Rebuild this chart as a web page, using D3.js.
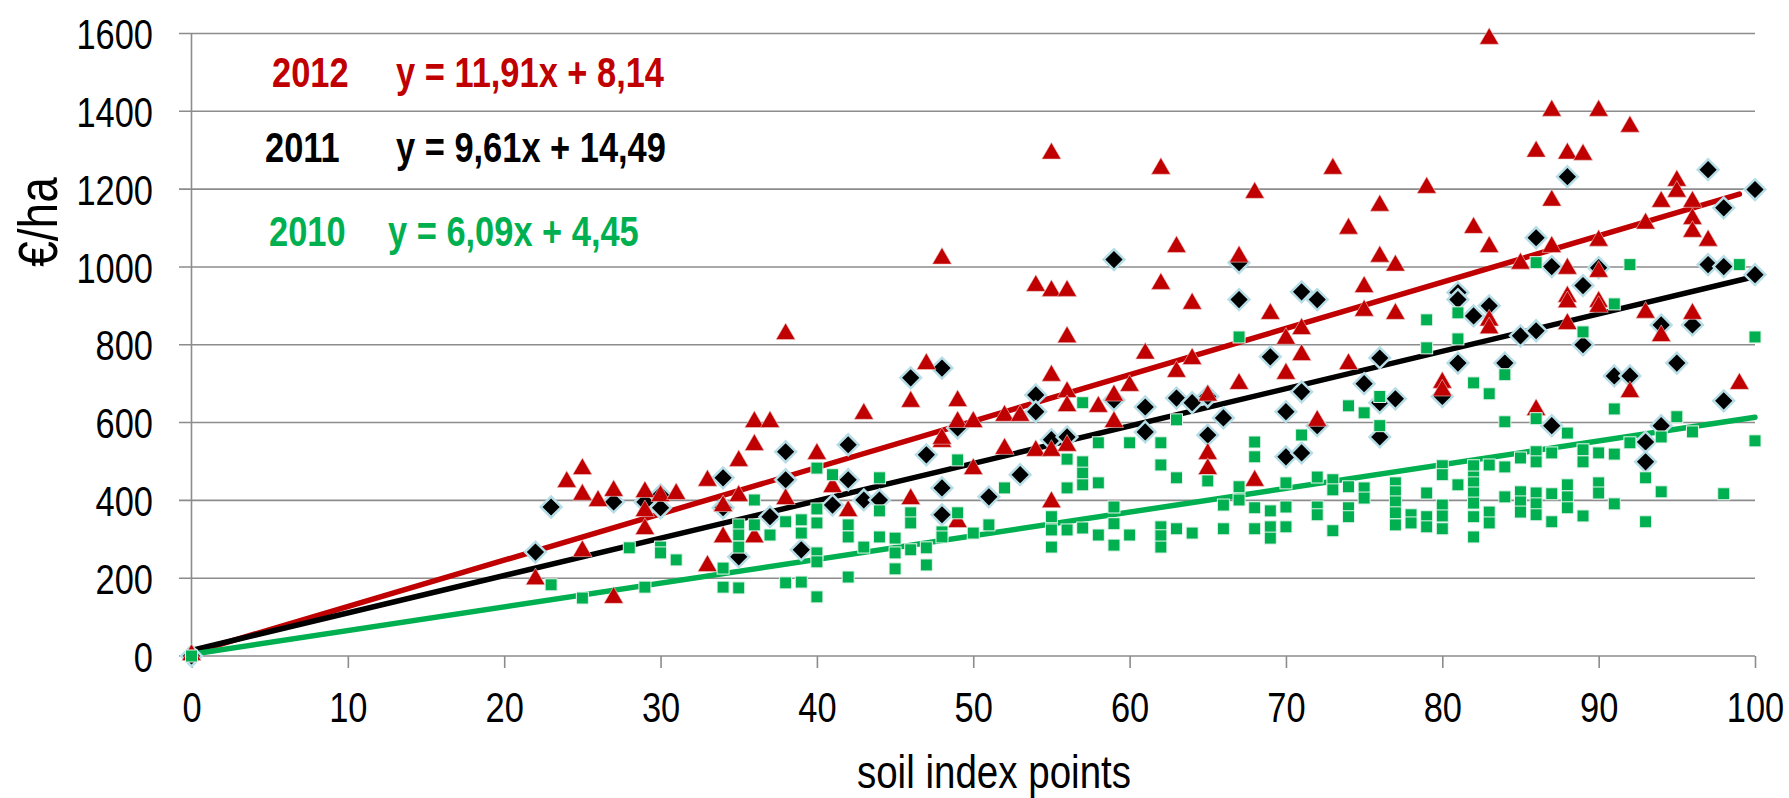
<!DOCTYPE html>
<html>
<head>
<meta charset="utf-8">
<script src="https://d3js.org/d3.v7.min.js"></script>
<style>
  body { margin: 0; background: #fff; }
  text { font-family: 'Liberation Sans', Arial, sans-serif; }
</style>
</head>
<body>
<svg id="my-svg" width="1789" height="798"></svg>
<script>
// Tick values
var xTicks = [0, 10, 20, 30, 40, 50, 60, 70, 80, 90, 100];
var yTicks = [0, 200, 400, 600, 800, 1000, 1200, 1400, 1600];

// 2012 (red triangles), [soil index, euro/ha]
var pts2012 = [
  [0,0],[22,195],[24,445],[25,478],[25,412],[25,267],[26,396],[27,422],[27,147],
  [29,419],[29,370],[29,324],[30,409],[31,414],[33,448],[33,229],[34,383],[34,303],
  [35,499],[35,409],[36,599],[36,540],[36,303],[37,599],[38,825],[38,401],[40,517],
  [41,432],[42,370],[43,620],[46,401],[46,651],[47,748],[48,548],[48,1019],[48,556],
  [49,653],[49,599],[49,342],[50,599],[50,478],[52,615],[52,530],[53,615],[54,525],
  [54,949],[55,718],[55,525],[55,393],[55,1289],[55,936],[56,936],[56,817],[56,676],
  [56,640],[56,538],[58,638],[59,667],[59,599],[60,692],[61,775],[62,1250],[62,954],
  [63,1049],[63,728],[64,903],[64,761],[65,667],[65,517],[65,478],[67,1024],[67,697],
  [68,1188],[68,448],[69,877],[70,813],[70,723],[71,838],[71,771],[72,602],[73,1250],
  [74,1096],[74,748],[75,946],[75,885],[76,1155],[76,1024],[77,1001],[77,877],[79,1201],
  [80,700],[80,680],[82,1098],[83,1584],[83,1049],[83,860],[83,840],[85,1006],[86,1294],
  [86,630],[87,1399],[87,1168],[87,1049],[88,1289],[88,993],[88,921],[88,907],[88,851],
  [89,1286],[90,1399],[90,1065],[90,985],[90,908],[90,895],[92,1358],[92,676],[93,1109],
  [93,880],[94,1165],[94,820],[95,1219],[95,1191],[96,1165],[96,1121],[96,1088],[96,877],
  [97,1065],[99,697]
];

// 2011 (black diamonds)
var pts2011 = [
  [0,0],[22,267],[23,383],[27,396],[29,396],[30,414],[30,381],[34,458],[34,381],[35,255],
  [37,358],[38,525],[38,453],[39,273],[41,388],[42,543],[42,453],[43,401],[44,401],[46,715],
  [47,517],[48,740],[48,432],[48,363],[49,586],[51,409],[53,466],[54,671],[54,628],[55,556],
  [56,563],[59,1019],[59,658],[61,640],[61,576],[63,663],[64,651],[65,667],[65,568],[66,612],
  [67,1011],[67,916],[69,769],[70,628],[70,512],[71,936],[71,679],[71,522],[72,916],[72,592],
  [75,700],[76,766],[76,651],[76,563],[77,661],[80,667],[81,934],[81,916],[81,753],[82,874],
  [83,900],[84,753],[85,823],[86,1075],[86,836],[87,1001],[87,592],[88,1232],[89,952],[89,800],
  [90,998],[91,720],[92,720],[93,550],[93,499],[94,851],[94,592],[95,753],[96,851],[97,1250],
  [97,1006],[98,1152],[98,1001],[98,656],[100,1199],[100,980]
];

// 2010 (green squares)
var pts2010 = [
  [0,0],[23,183],[25,149],[28,278],[29,177],[30,280],[30,265],[31,247],[34,226],[34,177],
  [35,337],[35,311],[35,280],[35,175],[36,401],[36,337],[37,311],[38,345],[38,188],[39,350],
  [39,316],[39,190],[40,483],[40,378],[40,342],[40,265],[40,242],[40,152],[41,466],[42,337],
  [42,306],[42,203],[43,280],[44,458],[44,373],[44,306],[45,303],[45,265],[45,224],[46,368],
  [46,342],[46,273],[47,278],[47,234],[48,319],[48,306],[49,504],[49,368],[50,316],[51,337],
  [52,432],[55,358],[55,324],[55,280],[56,506],[56,432],[56,324],[57,651],[57,499],[57,470],
  [57,440],[57,329],[58,548],[58,445],[58,311],[59,383],[59,340],[59,285],[60,548],[60,311],
  [62,548],[62,491],[62,332],[62,309],[62,280],[63,607],[63,458],[63,327],[64,316],[65,450],
  [66,388],[66,327],[67,820],[67,435],[67,401],[68,550],[68,512],[68,381],[68,327],[69,373],
  [69,332],[69,303],[70,445],[70,383],[70,332],[71,568],[72,460],[72,383],[72,363],[73,453],
  [73,427],[73,322],[74,643],[74,435],[74,381],[74,358],[75,625],[75,432],[75,406],[76,667],
  [76,592],[77,445],[77,422],[77,396],[77,368],[77,337],[78,363],[78,342],[79,864],[79,792],
  [79,419],[79,358],[79,332],[80,489],[80,466],[80,388],[80,360],[80,327],[81,882],[81,815],
  [81,440],[82,702],[82,489],[82,460],[82,445],[82,419],[82,393],[82,358],[82,306],[83,674],
  [83,491],[83,370],[83,342],[84,723],[84,602],[84,486],[84,409],[85,509],[85,422],[85,396],
  [85,370],[86,1011],[86,610],[86,525],[86,499],[86,419],[86,391],[86,363],[87,522],[87,417],
  [87,345],[88,573],[88,440],[88,409],[88,381],[89,833],[89,530],[89,499],[89,360],[90,522],
  [90,445],[90,419],[91,905],[91,635],[91,519],[91,391],[92,1006],[92,548],[93,458],[93,345],
  [94,563],[94,422],[95,615],[96,576],[98,417],[99,1006],[100,820],[100,553]
];

// Trend lines: year, slope, intercept, last x
var years = ['2012', '2011', '2010'];
var slopes = [11.91, 9.61, 6.09];
var intercepts = [8.14, 14.49, 4.45];
var lastX = [99, 100, 100];
var equations = ['y = 11,91x + 8,14', 'y = 9,61x + 14,49', 'y = 6,09x + 4,45'];
var colors = ['#c00000', '#000000', '#00b050'];

// no narrow font installed, so squeeze the normal one
var NARROW = 0.82;

var svg = d3.select('#my-svg');
svg.append('rect').attr('width', 1789).attr('height', 798).attr('fill', '#fff');

var x = d3.scaleLinear().domain([0, 100]).range([191.5, 1755]);
var y = d3.scaleLinear().domain([0, 1600]).range([656, 33.5]);

// put a text at (tx, ty) and squeeze it sideways
function narrowText(parent, tx, ty, extra) {
  return parent.append('text')
    .attr('transform', 'translate(' + tx + ',' + ty + ')' + (extra || '') + ' scale(' + NARROW + ',1)');
}

// Gridlines
svg.append('g').selectAll('line').data(yTicks).enter()
  .append('line')
  .attr('x1', 179).attr('x2', x(100))
  .attr('y1', function(d) {return y(d)}).attr('y2', function(d) {return y(d)})
  .attr('stroke', '#8c8c8c').attr('stroke-width', 1.6);

// Y axis line
svg.append('line')
  .attr('x1', x(0)).attr('x2', x(0)).attr('y1', y(1600)).attr('y2', y(0))
  .attr('stroke', '#8c8c8c').attr('stroke-width', 1.6);

// X axis
var xAxis = svg.append('g')
  .attr('transform', 'translate(0,' + y(0) + ')')
  .call(d3.axisBottom(x).tickValues(xTicks).tickSize(12).tickPadding(24));
xAxis.select('.domain').remove();
xAxis.selectAll('line').attr('stroke', '#8c8c8c').attr('stroke-width', 1.6);
xAxis.selectAll('text').attr('font-size', 42).attr('fill', '#000')
  .attr('font-family', "'Liberation Sans', Arial, sans-serif")
  .attr('transform', 'scale(' + NARROW + ',1)');

// Y axis labels
var yAxis = svg.append('g')
  .attr('transform', 'translate(' + 153 + ',0)')
  .call(d3.axisLeft(y).tickValues(yTicks).tickFormat(d3.format('d')).tickSize(0).tickPadding(0));
yAxis.select('.domain').remove();
yAxis.selectAll('text').attr('font-size', 42).attr('fill', '#000')
  .attr('dy', '0.36em').attr('x', 0)
  .attr('font-family', "'Liberation Sans', Arial, sans-serif")
  .attr('transform', 'scale(' + NARROW + ',1)');

// Axis titles
narrowText(svg, 57, 222, ' rotate(-90)')
  .attr('text-anchor', 'middle').attr('font-size', 56).text('€/ha');
narrowText(svg, 994, 788)
  .attr('text-anchor', 'middle').attr('font-size', 47).text('soil index points');

// Trend lines
var trends = years.map(function(yr, i) {
  return {x0: 0, y0: intercepts[i], x1: lastX[i], y1: slopes[i] * lastX[i] + intercepts[i], c: colors[i]};
});
svg.append('g').selectAll('line').data(trends).enter()
  .append('line')
  .attr('x1', function(d) {return x(d.x0)}).attr('y1', function(d) {return y(d.y0)})
  .attr('x2', function(d) {return x(d.x1)}).attr('y2', function(d) {return y(d.y1)})
  .attr('stroke', function(d) {return d.c})
  .attr('stroke-width', 5.5)
  .attr('stroke-linecap', 'round');

// 2011 diamonds
svg.append('g').selectAll('path').data(pts2011).enter()
  .append('path')
  .attr('d', d3.symbol().type(d3.symbolSquare).size(215))
  .attr('transform', function(d) {return 'translate(' + x(d[0]) + ',' + y(d[1]) + ') rotate(45)'})
  .attr('fill', '#000').attr('stroke', '#b7dde6').attr('stroke-width', 2.5);

// 2012 triangles
svg.append('g').selectAll('path').data(pts2012).enter()
  .append('path')
  .attr('d', d3.symbol().type(d3.symbolTriangle).size(160))
  .attr('transform', function(d) {return 'translate(' + x(d[0]) + ',' + (y(d[1]) - 1) + ')'})
  .attr('fill', '#c00000').attr('stroke', '#f2c9c9').attr('stroke-width', 0.6);

// 2010 squares
svg.append('g').selectAll('rect').data(pts2010).enter()
  .append('rect')
  .attr('x', function(d) {return x(d[0]) - 6})
  .attr('y', function(d) {return y(d[1]) - 6})
  .attr('width', 12).attr('height', 12)
  .attr('fill', '#00b050').attr('stroke', '#e3f4ec').attr('stroke-width', 1);

// Legend text
var legendX = [272, 265, 269];
var eqX = [396, 396, 388];
var legendY = [87, 162, 246];
years.forEach(function(yr, i) {
  narrowText(svg, legendX[i], legendY[i])
    .attr('font-size', 42).attr('font-weight', 'bold').attr('fill', colors[i]).text(yr);
  narrowText(svg, eqX[i], legendY[i])
    .attr('font-size', 42).attr('font-weight', 'bold').attr('fill', colors[i]).text(equations[i]);
});
</script>
</body>
</html>
